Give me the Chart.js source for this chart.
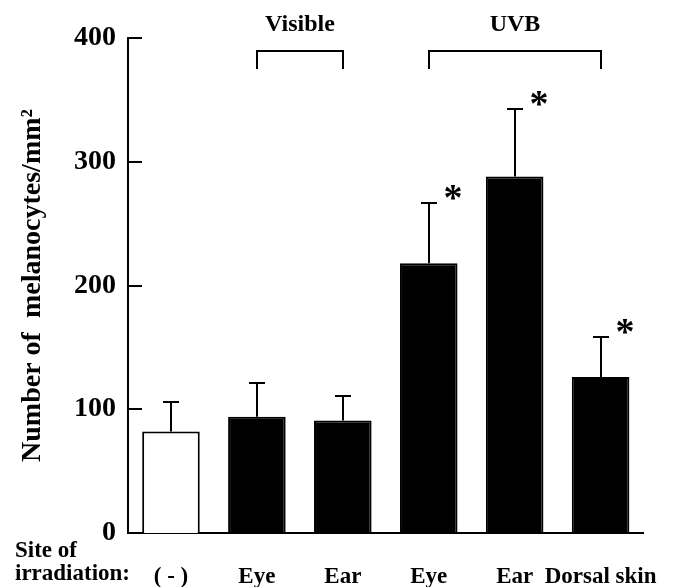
<!DOCTYPE html>
<html>
<head>
<meta charset="utf-8">
<script src="https://cdn.jsdelivr.net/npm/chart.js@4.4.1/dist/chart.umd.min.js"></script>
<style>
html, body { margin: 0; padding: 0; background: #fff; }
</style>
</head>
<body>
<canvas id="mycanvas" width="690" height="587"></canvas>
<script>
var sites = ['( - )', 'Eye', 'Ear', 'Eye', 'Ear', 'Dorsal skin'];
var means = [82, 94, 91, 218, 288, 126];
var sem = [24, 27, 20, 49, 55, 32];
var significant = [false, false, false, true, true, true];
var groupNames = ['Visible', 'UVB'];
var groupFrom = [1, 3];
var groupTo = [2, 5];
var yTicks = [0, 100, 200, 300, 400];

var serif = '"Liberation Serif", "Times New Roman", serif';

// error bars, asterisks, brackets, inward ticks
var extras = {
	id: 'extras',
	afterDatasetsDraw: function(chart) {
		var ctx = chart.ctx;
		var xs = chart.scales.x;
		var ys = chart.scales.y;
		var area = chart.chartArea;
		ctx.save();
		ctx.strokeStyle = '#000';
		ctx.fillStyle = '#000';
		ctx.lineWidth = 2;

		ys.ticks.forEach(function(t) {
			if (t.value === 0) return;
			var py = Math.round(ys.getPixelForValue(t.value));
			ctx.beginPath();
			ctx.moveTo(area.left, py);
			ctx.lineTo(area.left + 14, py);
			ctx.stroke();
		});

		for (var i = 0; i < means.length; i++) {
			var px = Math.round(xs.getPixelForValue(i));
			var y0 = ys.getPixelForValue(means[i]);
			var y1 = Math.round(ys.getPixelForValue(means[i] + sem[i]));
			ctx.beginPath();
			ctx.moveTo(px, y0);
			ctx.lineTo(px, y1);
			ctx.moveTo(px - 8, y1);
			ctx.lineTo(px + 8, y1);
			ctx.stroke();
			if (significant[i]) {
				ctx.font = 'bold 38px ' + serif;
				ctx.textAlign = 'center';
				ctx.textBaseline = 'middle';
				ctx.fillText('*', px + 24, y1 - 3);
			}
		}

		for (var k = 0; k < groupNames.length; k++) {
			var xa = Math.round(xs.getPixelForValue(groupFrom[k]));
			var xb = Math.round(xs.getPixelForValue(groupTo[k]));
			var top = area.top + 13;
			var leg = area.top + 31;
			ctx.beginPath();
			ctx.moveTo(xa, leg);
			ctx.lineTo(xa, top);
			ctx.lineTo(xb, top);
			ctx.lineTo(xb, leg);
			ctx.stroke();
			ctx.font = 'bold 24px ' + serif;
			ctx.textAlign = 'center';
			ctx.textBaseline = 'middle';
			ctx.fillText(groupNames[k], (xa + xb) / 2, area.top - 13);
		}

		ctx.font = 'bold 23px ' + serif;
		ctx.textAlign = 'left';
		ctx.textBaseline = 'middle';
		ctx.fillText('Site of', 15, 551);
		ctx.fillText('irradiation:', 15, 574);
		ctx.restore();
	}
};

var ctx = document.getElementById('mycanvas');
var BarGraph = new Chart(ctx, {
	type: 'bar',
	data: {
		labels: sites,
		datasets: [{
			data: means,
			backgroundColor: means.map(function(v, i) { return i === 0 ? '#ffffff' : '#000000'; }),
			borderColor: '#000000',
			borderWidth: 2,
			barPercentage: 0.67,
			categoryPercentage: 1.0
		}]
	},
	options: {
		responsive: false,
		animation: false,
		devicePixelRatio: 1,
		layout: { padding: { left: 10, right: 42, top: 38, bottom: 0 } },
		plugins: {
			legend: { display: false },
			tooltip: { enabled: false }
		},
		scales: {
			x: {
				afterFit: function(s) { s.height = 54; },
				grid: { display: false, drawTicks: false },
				border: { display: true, color: '#000', width: 2 },
				ticks: {
					color: '#000',
					font: { family: serif, size: 23, weight: 'bold' },
					padding: 30,
					maxRotation: 0,
					autoSkip: false
				}
			},
			y: {
				min: 0,
				max: 400,
				afterBuildTicks: function(s) { s.ticks = yTicks.map(function(v) { return { value: v }; }); },
				afterFit: function(s) { s.width = 118; },
				grid: { display: false, drawTicks: false },
				border: { display: true, color: '#000', width: 2 },
				ticks: {
					color: '#000',
					font: { family: serif, size: 28, weight: 'bold' },
					padding: 12
				},
				title: {
					display: true,
					text: 'Number of  melanocytes/mm\u00b2',
					color: '#000',
					font: { family: serif, size: 28, weight: 'bold' },
					padding: { top: 6, bottom: 0 }
				}
			}
		}
	},
	plugins: [extras]
});
</script>
</body>
</html>
